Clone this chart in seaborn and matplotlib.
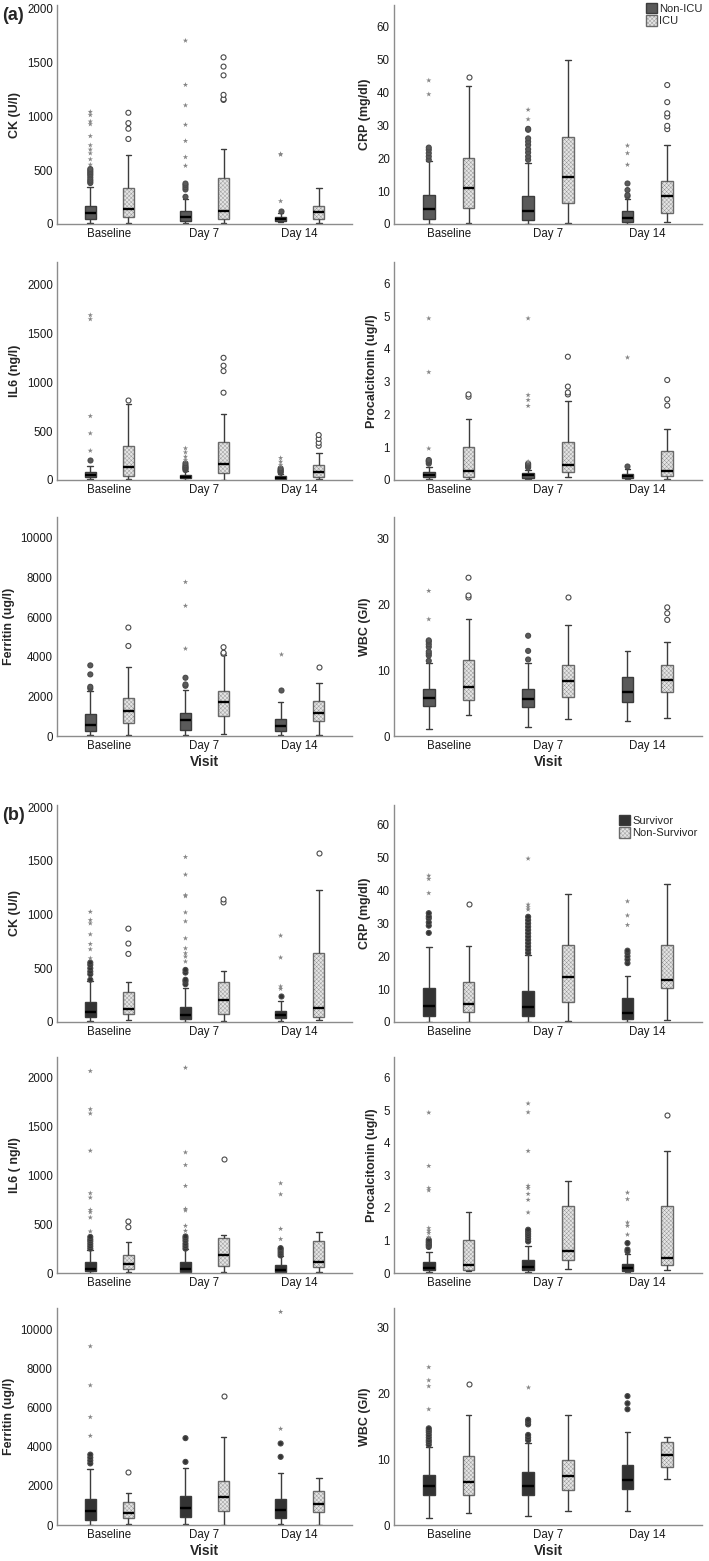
import numpy as np
import pandas as pd
import matplotlib
matplotlib.use("Agg")
import matplotlib.pyplot as plt
import seaborn as sns
from matplotlib.colors import to_rgb
from matplotlib.patches import Patch

sns.set_theme(style="white")
plt.rcParams["font.family"] = ["Liberation Sans", "DejaVu Sans"]
plt.rcParams["hatch.linewidth"] = 0.2

visits = ["Baseline", "Day 7", "Day 14"]
groups_a = ["Non-ICU", "ICU"]
groups_b = ["Survivor", "Non-Survivor"]

# rows: Baseline g1, Baseline g2, Day 7 g1, Day 7 g2, Day 14 g1, Day 14 g2
# box columns: whisker low, Q1, median, Q3, whisker high
# ---------------- panel (a) ----------------
a_ck_box = [[10, 49, 98, 166, 340], [12, 62, 135, 330, 643], [6, 31, 68, 123, 235],
            [12, 43, 123, 425, 692], [18, 31, 49, 68, 100], [12, 46, 108, 169, 338]]
a_ck_circ = [[380, 395, 410, 430, 450, 465, 480, 495, 510], [788, 883, 935, 1031],
             [252, 320, 340, 360, 375], [1150, 1157, 1197, 1378, 1459, 1545], [120], []]
a_ck_star = [[550, 600, 655, 690, 730, 815, 925, 950, 1010, 1040], [],
             [540, 620, 770, 920, 1100, 1290, 1700], [], [212, 643, 649], []]

a_crp_box = [[0, 1.5, 4.5, 8.8, 19.0], [0.2, 4.8, 10.8, 20.0, 42.0], [0, 1.2, 4.0, 8.5, 18.6],
             [0.4, 6.4, 14.4, 26.5, 49.8], [0, 0.5, 1.7, 3.8, 7.7], [0.7, 3.2, 8.4, 13.2, 23.9]]
a_crp_circ = [[19.5, 20.5, 21.5, 22.5, 23.2], [44.5],
              [19.5, 20.5, 21.7, 22.7, 24.0, 25.0, 26.0, 28.6, 28.9], [],
              [8.4, 8.8, 10.3, 12.3], [28.8, 29.8, 32.6, 33.6, 37.0, 42.2]]
a_crp_star = [[39.4, 43.6], [], [31.8, 34.7], [], [18.0, 21.5, 23.8], []]

a_il6_box = [[7, 27, 51, 78, 146], [14, 37, 129, 344, 777], [0, 17, 34, 51, 90],
             [0, 75, 167, 385, 671], [3, 14, 24, 37, 65], [10, 34, 78, 153, 276]]
a_il6_circ = [[201], [814], [102, 115, 125, 136, 150, 170], [893, 1114, 1169, 1250],
              [75, 85, 95, 105, 119], [350, 380, 420, 460]]
a_il6_star = [[300, 477, 654, 1645, 1686], [], [204, 238, 283, 324], [], [153, 187, 225], []]

a_pct_box = [[0.04, 0.08, 0.15, 0.23, 0.41], [0.04, 0.10, 0.26, 1.02, 1.85],
             [0.03, 0.07, 0.14, 0.20, 0.32], [0.08, 0.24, 0.46, 1.15, 2.42],
             [0.03, 0.06, 0.12, 0.17, 0.33], [0.04, 0.12, 0.27, 0.88, 1.55]]
a_pct_circ = [[0.50, 0.55, 0.58, 0.61], [2.54, 2.61], [0.38, 0.42, 0.46, 0.50],
              [2.61, 2.67, 2.85, 3.76], [0.44], [2.27, 2.46, 3.05]]
a_pct_star = [[0.96, 3.29, 4.93], [], [0.56, 2.26, 2.44, 2.59, 4.93], [], [3.76], []]

a_fer_box = [[34, 253, 540, 1098, 2263], [34, 659, 1250, 1926, 3479], [34, 321, 794, 1165, 2314],
             [118, 1030, 1740, 2280, 4087], [68, 270, 524, 845, 1740], [34, 777, 1182, 1757, 2669]]
a_fer_circ = [[2398, 2483, 3108, 3564], [4543, 5472], [2534, 2601, 2939],
              [4150, 4200, 4480], [2314], [3479]]
a_fer_star = [[], [], [4408, 6570, 7769], [], [4138], []]

a_wbc_box = [[1.0, 4.5, 5.8, 7.2, 11.1], [3.2, 5.5, 7.45, 11.5, 17.7], [1.4, 4.4, 5.6, 7.1, 11.0],
             [2.6, 5.9, 8.3, 10.7, 16.8], [2.2, 5.2, 6.6, 9.0, 12.9], [2.8, 6.7, 8.5, 10.7, 14.3]]
a_wbc_circ = [[11.4, 12.2, 12.5, 12.8, 13.5, 13.9, 14.3, 14.5], [21.0, 21.3, 24.0],
              [11.6, 12.9, 15.2], [21.0], [], [17.6, 18.6, 19.5]]
a_wbc_star = [[17.7, 22.0], [], [], [], [], []]

# ---------------- panel (b) ----------------
b_ck_box = [[5, 43, 90, 182, 380], [22, 74, 121, 278, 371], [0, 28, 68, 142, 315],
            [12, 74, 201, 371, 479], [6, 37, 62, 99, 198], [22, 46, 127, 640, 1233]]
b_ck_circ = [[393, 445, 470, 500, 532, 553], [634, 730, 869], [352, 377, 393, 460, 485],
             [1113, 1141], [244], [1576]]
b_ck_star = [[593, 677, 726, 816, 918, 949, 1026], [],
             [563, 609, 640, 686, 779, 937, 1020, 1171, 1181, 1372, 1536], [],
             [309, 331, 600, 804], []]

b_crp_box = [[0, 1.7, 5.0, 10.4, 22.7], [0, 3.0, 5.5, 12.2, 23.0], [0, 1.7, 4.6, 9.5, 20.5],
             [0.2, 6.1, 13.6, 23.3, 38.9], [0, 0.9, 2.7, 7.3, 13.9], [0.7, 10.3, 12.7, 23.5, 42.0]]
b_crp_circ = [[27.1, 29.3, 30.3, 31.5, 32.1, 33.1], [35.9],
              [21, 22, 23, 24, 25, 26, 27, 28, 29, 30, 31, 32], [],
              [17.9, 19.0, 20.0, 21.0, 21.7], []]
b_crp_star = [[39.2, 43.5, 44.5], [], [34.2, 34.9, 35.7, 49.7], [], [29.5, 32.4, 36.7], []]

b_il6_box = [[0, 18, 45, 112, 240], [14, 41, 92, 187, 317], [0, 15, 42, 112, 245],
             [10, 68, 187, 354, 392], [0, 10, 35, 78, 175], [10, 61, 116, 327, 416]]
b_il6_circ = [[250, 275, 300, 325, 345, 370], [470, 528], [250, 275, 300, 330, 355, 375],
              [1165], [180, 200, 220, 240, 255], []]
b_il6_star = [[426, 569, 623, 647, 773, 818, 1254, 1635, 1680, 2071], [],
              [433, 484, 641, 658, 893, 1107, 1237, 2105], [], [348, 453, 807, 920], []]

b_pct_box = [[0.03, 0.08, 0.14, 0.33, 0.66], [0.07, 0.10, 0.26, 1.00, 1.86],
             [0.03, 0.08, 0.17, 0.41, 0.82], [0.13, 0.41, 0.69, 2.07, 2.83],
             [0.02, 0.06, 0.14, 0.29, 0.59], [0.09, 0.26, 0.47, 2.07, 3.76]]
b_pct_circ = [[0.80, 0.85, 0.88, 0.93, 0.97, 1.02], [], [0.97, 1.05, 1.13, 1.20, 1.27, 1.33],
              [], [0.66, 0.72, 0.92], [4.86]]
b_pct_star = [[1.10, 1.23, 1.30, 1.38, 2.54, 2.61, 3.29, 4.93], [],
              [1.86, 2.25, 2.43, 2.61, 2.68, 3.75, 4.94, 5.21], [],
              [1.18, 1.45, 1.55, 2.27, 2.47], []]

b_fer_box = [[0, 256, 718, 1333, 2871], [51, 342, 632, 1162, 1658], [34, 410, 889, 1487, 2939],
             [0, 718, 1418, 2273, 4495], [51, 376, 786, 1333, 2649], [0, 684, 1077, 1760, 2393]]
b_fer_circ = [[3150, 3300, 3450, 3600], [2734], [3230, 4443], [6597], [3486, 4170], []]
b_fer_star = [[4563, 5520, 7144, 9143], [], [], [], [4922, 10903], []]

b_wbc_box = [[1.0, 4.6, 5.9, 7.6, 11.9], [1.9, 4.6, 6.6, 10.5, 16.8], [1.3, 4.6, 6.0, 8.0, 12.4],
             [2.2, 5.3, 7.5, 9.9, 16.8], [2.2, 5.5, 6.9, 9.2, 14.2], [7.0, 8.8, 10.7, 12.6, 13.4]]
b_wbc_circ = [[12.2, 12.6, 12.9, 13.3, 13.7, 14.1, 14.4, 14.7], [21.4],
              [12.9, 13.3, 13.7, 15.3, 15.7, 16.0], [], [17.6, 18.5, 19.6], []]
b_wbc_star = [[17.6, 21.1, 22.0, 24.0], [], [21.0], [], [], []]

LIGHT = "#e4e4e4"
EDGE = "#3c3c3c"
HATCH = "xxxxxxxx"
W, H = 709, 1561


def long_tables(box, circ, star, groups):
    rows, pts = [], []
    for i, stats in enumerate(box):
        visit, grp = visits[i // 2], groups[i % 2]
        rows += [(visit, grp, v) for v in stats]
        pts += [(visit, grp, v, "o") for v in circ[i]]
        pts += [(visit, grp, v, "*") for v in star[i]]
    df = pd.DataFrame(rows, columns=["visit", "group", "value"])
    pdf = pd.DataFrame(pts, columns=["visit", "group", "value", "kind"])
    return df, pdf


def draw(ax, box, circ, star, groups, dark, ylab, ymax, yticks, xlab=""):
    df, pdf = long_tables(box, circ, star, groups)
    sns.boxplot(data=df, x="visit", y="value", hue="group", order=visits, hue_order=groups,
                palette={groups[0]: dark, groups[1]: LIGHT}, saturation=1,
                whis=(0, 100), width=0.8, gap=0.7, linecolor=EDGE, linewidth=1,
                medianprops=dict(color="black", linewidth=1.7), legend=False, ax=ax)
    for p in ax.patches:
        if np.allclose(p.get_facecolor()[:3], to_rgb(LIGHT)):
            p.set_hatch(HATCH)
            p.set_edgecolor("#6a6a6a")

    circles = pdf[pdf["kind"] == "o"]
    if len(circles):
        sns.stripplot(data=circles, x="visit", y="value", hue="group", order=visits,
                      hue_order=groups, palette={groups[0]: dark, groups[1]: "white"},
                      dodge=True, jitter=False, size=3.6, linewidth=0.8, edgecolor="#4a4a4a",
                      legend=False, ax=ax)
    stars = pdf[pdf["kind"] == "*"]
    if len(stars):
        sns.stripplot(data=stars, x="visit", y="value", hue="group", order=visits,
                      hue_order=groups, palette={groups[0]: "#858585", groups[1]: "#858585"},
                      dodge=True, jitter=False, size=4.0, linewidth=0, marker="*",
                      legend=False, ax=ax)

    sns.despine(ax=ax)
    for s in ["left", "bottom"]:
        ax.spines[s].set_color("#8c8c8c")
        ax.spines[s].set_linewidth(1)
    ax.set_xlim(-0.55, 2.55)
    ax.set_ylim(0, ymax)
    ax.set_yticks(yticks)
    ax.tick_params(length=0, labelsize=8.3, colors="#1a1a1a", pad=3)
    ax.set_ylabel(ylab, fontsize=9, fontweight="bold")
    ax.set_xlabel(xlab, fontsize=10, fontweight="bold", labelpad=2)


def add_ax(x0, x1, y0, y1):
    return fig.add_axes([x0 / W, 1 - y1 / H, (x1 - x0) / W, (y1 - y0) / H])


fig = plt.figure(figsize=(W / 100, H / 100), dpi=100)
rows_y = [(5, 224), (262, 480), (517, 736), (805, 1022), (1057, 1273), (1308, 1525)]
LX, RX = (57, 352), (394, 702)

panels = [
    ("a", groups_a, "#5a5a5a",
     [(a_ck_box, a_ck_circ, a_ck_star, "CK (U/l)", 2030, range(0, 2001, 500)),
      (a_il6_box, a_il6_circ, a_il6_star, "IL6 (ng/l)", 2230, range(0, 2001, 500)),
      (a_fer_box, a_fer_circ, a_fer_star, "Ferritin (ug/l)", 11050, range(0, 10001, 2000))],
     [(a_crp_box, a_crp_circ, a_crp_star, "CRP (mg/dl)", 66.5, range(0, 61, 10)),
      (a_pct_box, a_pct_circ, a_pct_star, "Procalcitonin (ug/l)", 6.65, range(0, 7)),
      (a_wbc_box, a_wbc_circ, a_wbc_star, "WBC (G/l)", 33.2, range(0, 31, 10))]),
    ("b", groups_b, "#333333",
     [(b_ck_box, b_ck_circ, b_ck_star, "CK (U/l)", 2020, range(0, 2001, 500)),
      (b_il6_box, b_il6_circ, b_il6_star, "IL6 ( ng/l)", 2215, range(0, 2001, 500)),
      (b_fer_box, b_fer_circ, b_fer_star, "Ferritin (ug/l)", 11100, range(0, 10001, 2000))],
     [(b_crp_box, b_crp_circ, b_crp_star, "CRP (mg/dl)", 66, range(0, 61, 10)),
      (b_pct_box, b_pct_circ, b_pct_star, "Procalcitonin (ug/l)", 6.64, range(0, 7)),
      (b_wbc_box, b_wbc_circ, b_wbc_star, "WBC (G/l)", 33, range(0, 31, 10))]),
]

for k, (tag, groups, dark, left, right) in enumerate(panels):
    for r in range(3):
        y0, y1 = rows_y[3 * k + r]
        xlab = "Visit" if r == 2 else ""
        axl = add_ax(*LX, y0, y1)
        draw(axl, *left[r][:3], groups, dark, *left[r][3:], xlab=xlab)
        axr = add_ax(*RX, y0, y1)
        draw(axr, *right[r][:3], groups, dark, *right[r][3:], xlab=xlab)
        if r == 0:
            handles = [Patch(facecolor=dark, edgecolor=EDGE),
                       Patch(facecolor=LIGHT, edgecolor="#6a6a6a", hatch=HATCH)]
            anchor = (1.0, 1.01) if tag == "a" else (0.985, 0.955)
            axr.legend(handles, groups, loc="upper right", bbox_to_anchor=anchor,
                       frameon=False, fontsize=8, handlelength=1.0, handleheight=1.1,
                       handletextpad=0.15, labelspacing=0.1, borderaxespad=0, borderpad=0)
            fig.text(2 / W, 1 - (y0 + 10) / H, f"({tag})", fontsize=13, fontweight="bold",
                     va="center", ha="left")

fig.savefig("out.png", dpi=100)
